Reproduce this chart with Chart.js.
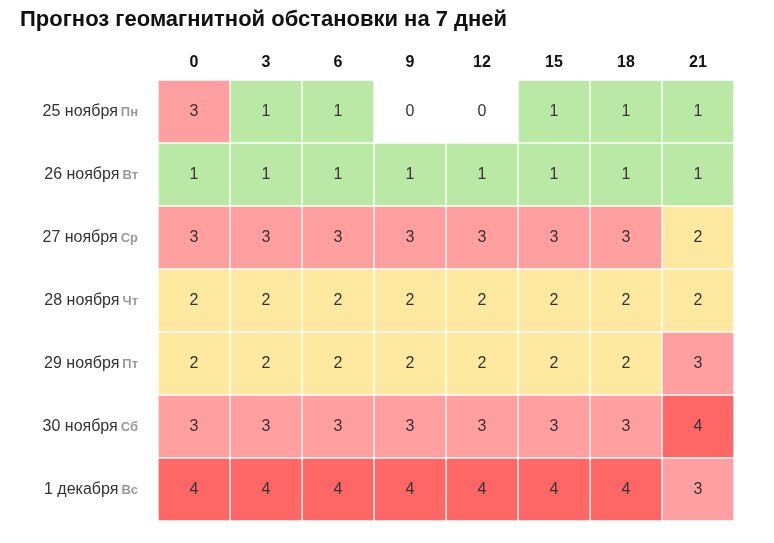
<!DOCTYPE html>
<html>
<head>
<meta charset="utf-8">
<script src="https://cdn.jsdelivr.net/npm/chart.js@4"></script>
<style>
  body { margin: 0; background: #fff; }
  #wrap { width: 774px; height: 543px; }
</style>
</head>
<body>
<div id="wrap"><canvas id="kp"></canvas></div>
<script>
// Прогноз Kp по дням
const hours = ["0", "3", "6", "9", "12", "15", "18", "21"];
const days = ["25 ноября", "26 ноября", "27 ноября", "28 ноября", "29 ноября", "30 ноября", "1 декабря"];
const weekdays = ["Пн", "Вт", "Ср", "Чт", "Пт", "Сб", "Вс"];
const kp = [
  [3, 1, 1, 0, 0, 1, 1, 1],
  [1, 1, 1, 1, 1, 1, 1, 1],
  [3, 3, 3, 3, 3, 3, 3, 2],
  [2, 2, 2, 2, 2, 2, 2, 2],
  [2, 2, 2, 2, 2, 2, 2, 3],
  [3, 3, 3, 3, 3, 3, 3, 4],
  [4, 4, 4, 4, 4, 4, 4, 3],
];
const colors = ["#ffffff", "#b9e9a5", "#ffe9a1", "#ff9f9f", "#ff6666"];

const datasets = hours.map((h, col) => ({
  label: h,
  data: days.map(() => 1),
  backgroundColor: kp.map((row) => colors[row[col]]),
  borderColor: "#ffffff",
  borderWidth: 1,
  borderSkipped: false,
  barPercentage: 1,
  categoryPercentage: 1,
}));

// подписи: заголовок, часы, дни, значения
const labelsPlugin = {
  id: "labels",
  afterDatasetsDraw(chart) {
    const c = chart.ctx;
    const x = chart.scales.x;
    const y = chart.scales.y;
    c.save();
    c.fillStyle = "#111";
    c.font = "bold 22px 'Liberation Sans', Arial, sans-serif";
    c.textAlign = "left";
    c.textBaseline = "middle";
    c.fillText("Прогноз геомагнитной обстановки на 7 дней", 20, 20);

    c.font = "bold 16px 'Liberation Sans', Arial, sans-serif";
    c.textAlign = "center";
    hours.forEach((h, i) => c.fillText(h, x.getPixelForValue(i + 0.5), 63));

    days.forEach((d, r) => {
      const cy = y.getPixelForValue(r);
      c.font = "bold 13px 'Liberation Sans', Arial, sans-serif";
      c.textAlign = "right";
      c.fillStyle = "#999";
      const wd = c.measureText(weekdays[r]).width;
      c.fillText(weekdays[r], 138, cy + 1);
      c.font = "16px 'Liberation Sans', Arial, sans-serif";
      c.fillStyle = "#333";
      c.fillText(d, 138 - wd - 3, cy);

      c.textAlign = "center";
      kp[r].forEach((v, i) => c.fillText(String(v), x.getPixelForValue(i + 0.5), cy));
    });
    c.restore();
  },
};

new Chart(document.getElementById("kp"), {
  type: "bar",
  data: { labels: days, datasets },
  options: {
    indexAxis: "y",
    responsive: true,
    maintainAspectRatio: false,
    animation: false,
    layout: { padding: { left: 158, right: 40, top: 80, bottom: 22 } },
    plugins: { legend: { display: false }, tooltip: { enabled: false } },
    scales: {
      x: { stacked: true, min: 0, max: 8, display: false },
      y: { stacked: true, display: false },
    },
  },
  plugins: [labelsPlugin],
});
</script>
</body>
</html>
